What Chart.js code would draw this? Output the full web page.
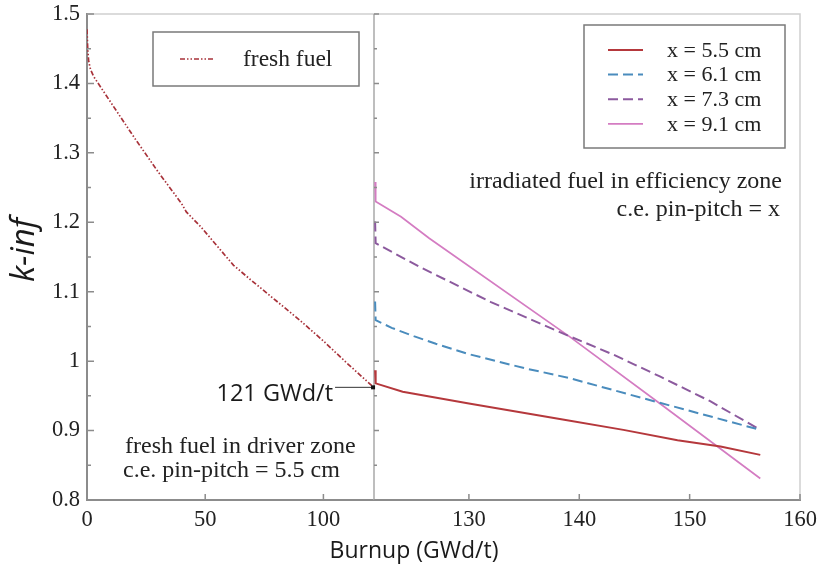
<!DOCTYPE html>
<html>
<head>
<meta charset="utf-8">
<script src="https://cdn.jsdelivr.net/npm/chart.js@4.4.1/dist/chart.umd.min.js"></script>
<style>
  html, body { margin: 0; padding: 0; background: #fff; }
  #wrap { width: 818px; height: 569px; }
</style>
</head>
<body>
<div id="wrap"><canvas id="myChart"></canvas></div>
<script>
// burnup where the fresh-fuel panel ends and the irradiated-fuel panel starts
const breakAt = 121.4;

// fresh fuel, driver zone
const burnupFresh = [0, 0.3, 0.7, 1.5, 2.8, 10, 20, 30, 40, 42, 48, 55, 62, 70, 80, 90, 100, 110, 121];
const kFresh = [1.478, 1.45, 1.432, 1.42, 1.41, 1.373, 1.322, 1.273, 1.227, 1.215, 1.194, 1.166, 1.138, 1.115, 1.087, 1.059, 1.029, 0.997, 0.963];

// irradiated fuel, efficiency zone
const burnup55 = [121.5, 121.55, 124, 130, 138.5, 144, 148.9, 152.8, 156.4];
const k55 = [0.987, 0.968, 0.956, 0.939, 0.916, 0.901, 0.886, 0.877, 0.865];
const burnup61 = [121.5, 121.55, 123, 125, 127, 130, 135, 139, 147.3, 156.4];
const k61 = [1.086, 1.059, 1.048, 1.036, 1.025, 1.010, 0.990, 0.976, 0.940, 0.901];
const burnup73 = [121.5, 121.55, 125.5, 132, 138.5, 143, 147.3, 151.9, 156.4];
const k73 = [1.201, 1.170, 1.136, 1.085, 1.040, 1.010, 0.978, 0.942, 0.901];
const burnup91 = [121.5, 121.55, 123.85, 126.4, 139.15, 147.3, 156.4];
const k91 = [1.258, 1.230, 1.208, 1.177, 1.035, 0.939, 0.831];

const kTicks = [0.8, 0.9, 1.0, 1.1, 1.2, 1.3, 1.4, 1.5];
const burnupTicksLeft = [0, 50, 100];
const burnupTicksRight = [130, 140, 150, 160];

const pts = (xs, ys) => xs.map((x, i) => ({ x: x, y: ys[i] }));

const serif = "'Liberation Serif', 'Times New Roman', serif";
const sans = "'Open Sans', 'Noto Sans', sans-serif";
const axisGray = "#8c8c8c";

let drawExtras = {
    id: "drawExtras",
    beforeDatasetsDraw(chart) {
        const ctx = chart.ctx;
        const ca = chart.chartArea;
        const sep = chart.scales.xLeft.right;
        ctx.save();
        // light frame top / right, separator
        ctx.strokeStyle = "#d0d0d0";
        ctx.lineWidth = 1.5;
        ctx.beginPath();
        ctx.moveTo(ca.left, ca.top);
        ctx.lineTo(ca.right, ca.top);
        ctx.lineTo(ca.right, ca.bottom);
        ctx.stroke();
        ctx.strokeStyle = "#a8a8a8";
        ctx.beginPath();
        ctx.moveTo(sep, ca.top);
        ctx.lineTo(sep, ca.bottom);
        ctx.stroke();
        ctx.restore();
    },
    afterDraw(chart) {
        const ctx = chart.ctx;
        const ca = chart.chartArea;
        const xl = chart.scales.xLeft;
        const xr = chart.scales.xRight;
        const y = chart.scales.y;
        const sep = xl.right;
        ctx.save();

        // inward ticks
        ctx.strokeStyle = axisGray;
        ctx.lineWidth = 1.5;
        ctx.beginPath();
        for (let i = 0; i < kTicks.length; i++) {
            const py = y.getPixelForValue(kTicks[i]);
            ctx.moveTo(ca.left, py); ctx.lineTo(ca.left + 7, py);
            ctx.moveTo(sep, py); ctx.lineTo(sep + 5, py);
            if (i < kTicks.length - 1) {
                const pm = y.getPixelForValue((kTicks[i] + kTicks[i + 1]) / 2);
                ctx.moveTo(ca.left, pm); ctx.lineTo(ca.left + 4, pm);
                ctx.moveTo(sep, pm); ctx.lineTo(sep + 3, pm);
            }
        }
        burnupTicksLeft.forEach(v => {
            const px = xl.getPixelForValue(v);
            ctx.moveTo(px, ca.bottom); ctx.lineTo(px, ca.bottom - 6);
        });
        burnupTicksRight.forEach(v => {
            const px = xr.getPixelForValue(v);
            ctx.moveTo(px, ca.bottom); ctx.lineTo(px, ca.bottom - 6);
        });
        ctx.stroke();

        // 121 GWd/t marker
        const last = burnupFresh.length - 1;
        const mx = xl.getPixelForValue(burnupFresh[last]);
        const my = y.getPixelForValue(kFresh[last]);
        ctx.strokeStyle = "#333";
        ctx.lineWidth = 1;
        ctx.beginPath();
        ctx.moveTo(mx - 38, my + 0.5);
        ctx.lineTo(mx, my + 0.5);
        ctx.stroke();
        ctx.fillStyle = "#111";
        ctx.fillRect(mx - 2, my - 1.5, 4, 4);
        ctx.font = "23.5px " + sans;
        ctx.textAlign = "right";
        ctx.textBaseline = "middle";
        ctx.fillStyle = "#1a1a1a";
        ctx.fillText("121 GWd/t", mx - 40, my + 7);

        // annotations
        ctx.font = "24px " + serif;
        ctx.fillStyle = "#222";
        ctx.textAlign = "right";
        ctx.fillText("irradiated fuel in efficiency zone", ca.right - 18, 182);
        ctx.fillText("c.e. pin-pitch = x", ca.right - 20, 210);
        ctx.textAlign = "left";
        ctx.fillText("fresh fuel in driver zone", ca.left + 38, 447);
        ctx.fillText("c.e. pin-pitch = 5.5 cm", ca.left + 36, 471);

        // legends
        const ds = chart.data.datasets;
        const sample = (d, x0, x1, yy) => {
            ctx.save();
            ctx.strokeStyle = d.borderColor;
            ctx.lineWidth = d.borderWidth;
            ctx.setLineDash(d.borderDash || []);
            ctx.beginPath();
            ctx.moveTo(x0, yy); ctx.lineTo(x1, yy);
            ctx.stroke();
            ctx.restore();
        };
        ctx.strokeStyle = "#7a7a7a";
        ctx.lineWidth = 1.5;
        ctx.strokeRect(153, 32, 206, 54);
        sample(ds[0], 180, 215, 59);
        ctx.font = "23.5px " + serif;
        ctx.fillText(ds[0].label, 243, 60);

        ctx.strokeStyle = "#7a7a7a";
        ctx.strokeRect(584, 25, 201, 123);
        ctx.font = "22px " + serif;
        for (let i = 1; i < ds.length; i++) {
            const yy = 50 + (i - 1) * 24.6;
            sample(ds[i], 608, 643, yy);
            ctx.fillStyle = "#222";
            ctx.fillText(ds[i].label, 667, yy + 1);
        }

        // axis titles
        ctx.fillStyle = "#1a1a1a";
        ctx.font = "23px " + sans;
        ctx.textAlign = "center";
        ctx.fillText("Burnup (GWd/t)", 414, 551);
        ctx.translate(25, 250);
        ctx.rotate(-Math.PI / 2);
        ctx.font = "italic 33px " + sans;
        ctx.fillText("k-inf", 0, 0);
        ctx.restore();
    }
};

const tickFont = { family: serif, size: 22.5 };
const fmt = v => String(+Number(v).toFixed(2));

let myChart = document.getElementById("myChart").getContext("2d");
let kinfChart = new Chart(myChart, {
    type: "line",
    data: {
        datasets: [{
            label: "fresh fuel",
            data: pts(burnupFresh, kFresh),
            xAxisID: "xLeft",
            borderColor: "#a8323a",
            borderWidth: 1.7,
            borderDash: [5, 2, 1.5, 2, 1.5, 2]
        }, {
            label: "x = 5.5 cm",
            data: pts(burnup55, k55),
            xAxisID: "xRight",
            borderColor: "#b5383c",
            borderWidth: 2
        }, {
            label: "x = 6.1 cm",
            data: pts(burnup61, k61),
            xAxisID: "xRight",
            borderColor: "#4a8cbd",
            borderWidth: 2,
            borderDash: [10, 5]
        }, {
            label: "x = 7.3 cm",
            data: pts(burnup73, k73),
            xAxisID: "xRight",
            borderColor: "#8c5a9e",
            borderWidth: 2,
            borderDash: [10, 5]
        }, {
            label: "x = 9.1 cm",
            data: pts(burnup91, k91),
            xAxisID: "xRight",
            borderColor: "#d47cc2",
            borderWidth: 1.7
        }]
    },
    options: {
        responsive: true,
        maintainAspectRatio: false,
        animation: false,
        layout: { padding: { left: 0, top: 14, right: 18, bottom: 0 } },
        elements: { point: { radius: 0 }, line: { tension: 0, fill: false } },
        plugins: { legend: { display: false }, tooltip: { enabled: false } },
        scales: {
            xLeft: {
                type: "linear", position: "bottom", stack: "burnup", stackWeight: 287,
                min: 0, max: breakAt,
                afterBuildTicks: s => { s.ticks = burnupTicksLeft.map(v => ({ value: v })); },
                ticks: { font: tickFont, color: "#222", padding: 7, maxRotation: 0, callback: fmt },
                grid: { display: false, drawTicks: false },
                border: { color: axisGray, width: 2 },
                afterFit: s => { s.height = 69; s.paddingLeft = 0; s.paddingRight = 0; }
            },
            xRight: {
                type: "linear", position: "bottom", stack: "burnup", stackWeight: 426,
                min: breakAt, max: 160,
                afterBuildTicks: s => { s.ticks = burnupTicksRight.map(v => ({ value: v })); },
                ticks: { font: tickFont, color: "#222", padding: 7, maxRotation: 0, callback: fmt },
                grid: { display: false, drawTicks: false },
                border: { color: axisGray, width: 2 },
                afterFit: s => { s.height = 69; s.paddingLeft = 0; s.paddingRight = 0; }
            },
            y: {
                type: "linear", position: "left",
                min: 0.8, max: 1.5,
                afterBuildTicks: s => { s.ticks = kTicks.map(v => ({ value: v })); },
                ticks: { font: tickFont, color: "#222", padding: 7, callback: fmt },
                grid: { display: false, drawTicks: false },
                border: { color: axisGray, width: 2 },
                afterFit: s => { s.width = 87; s.paddingTop = 0; s.paddingBottom = 0; }
            }
        }
    },
    plugins: [drawExtras]
});
</script>
</body>
</html>
